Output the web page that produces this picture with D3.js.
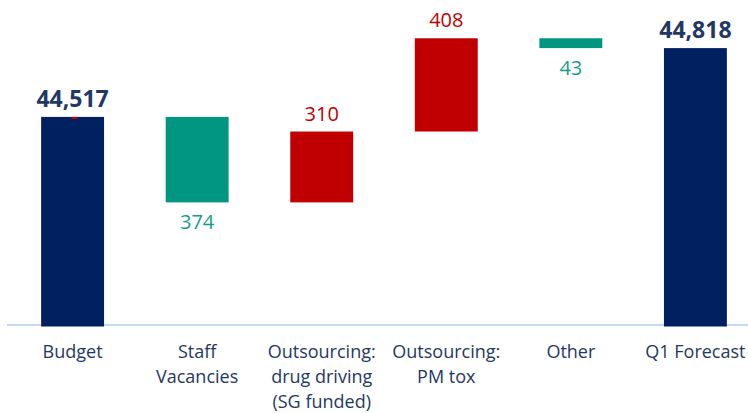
<!DOCTYPE html>
<html>
<head>
<meta charset="utf-8">
<script src="https://cdn.jsdelivr.net/npm/d3@7"></script>
<style>
  body { margin: 0; background: #fff; }
  text { font-family: "Open Sans", "Noto Sans", sans-serif; }
</style>
</head>
<body>
<div id="chart"></div>
<script>
// Data
const categories = ["Budget", "Staff Vacancies", "Outsourcing: drug driving (SG funded)", "Outsourcing: PM tox", "Other", "Q1 Forecast"];
const categoryLines = [["Budget"], ["Staff", "Vacancies"], ["Outsourcing:", "drug driving", "(SG funded)"], ["Outsourcing:", "PM tox"], ["Other"], ["Q1 Forecast"]];
const kinds = ["total", "change", "change", "change", "change", "total"];
const values = [44517, -374, 310, 408, -43, 44818];
const valueLabels = ["44,517", "374", "310", "408", "43", "44,818"];
const yDomain = [43600, 45000];

const width = 748, height = 413;
const colors = { total: "#002060", up: "#c00000", down: "#009681", totalText: "#1f3864", upText: "#c00000", downText: "#169e8a" };

// build waterfall steps
let running = 0;
const steps = categories.map((c, i) => {
  let start, end;
  if (kinds[i] === "total") { start = yDomain[0]; end = values[i]; running = values[i]; }
  else { start = running; end = running + values[i]; running = end; }
  return { cat: c, lines: categoryLines[i], kind: kinds[i], value: values[i], label: valueLabels[i], start, end };
});

const svg = d3.select("#chart").append("svg")
  .attr("width", width).attr("height", height);

const x = d3.scaleBand().domain(categories).range([10, 758]).paddingInner(0.495).paddingOuter(0.25);
const y = d3.scaleLinear().domain(yDomain).range([326.5, 6.5]);

// axis line
svg.append("line")
  .attr("x1", 7).attr("x2", 748)
  .attr("y1", 325).attr("y2", 325)
  .attr("stroke", "#c6d9f0").attr("stroke-width", 2);

// bars
svg.selectAll("rect.bar")
  .data(steps)
  .enter().append("rect")
  .attr("class", "bar")
  .attr("x", d => x(d.cat))
  .attr("width", x.bandwidth())
  .attr("y", d => y(Math.max(d.start, d.end)))
  .attr("height", d => Math.abs(y(d.start) - y(d.end)))
  .attr("fill", d => d.kind === "total" ? colors.total : (d.value > 0 ? colors.up : colors.down));

// small red tick on the budget bar
svg.append("rect")
  .attr("x", x(categories[0]) + x.bandwidth() / 2 - 1)
  .attr("y", y(values[0]))
  .attr("width", 6).attr("height", 2)
  .attr("fill", colors.up);

// value labels
svg.selectAll("text.val")
  .data(steps)
  .enter().append("text")
  .attr("class", "val")
  .attr("text-anchor", "middle")
  .attr("x", d => x(d.cat) + x.bandwidth() / 2)
  .attr("y", d => {
    if (d.kind === "total") return y(d.end) - 10;
    if (d.value > 0) return y(d.end) - 11;
    return y(d.end) + 27;
  })
  .attr("font-size", d => d.kind === "total" ? "23px" : "20px")
  .attr("font-weight", d => d.kind === "total" ? "bold" : "normal")
  .attr("fill", d => d.kind === "total" ? colors.totalText : (d.value > 0 ? colors.upText : colors.downText))
  .text(d => d.label);

// category labels
const cat = svg.selectAll("text.cat")
  .data(steps)
  .enter().append("text")
  .attr("class", "cat")
  .attr("text-anchor", "middle")
  .attr("font-size", "18px")
  .attr("fill", "#1f3864")
  .attr("x", d => x(d.cat) + x.bandwidth() / 2)
  .attr("y", 358);

cat.selectAll("tspan")
  .data(d => d.lines.map(l => ({ l, cx: x(d.cat) + x.bandwidth() / 2 })))
  .enter().append("tspan")
  .attr("x", t => t.cx)
  .attr("dy", (t, i) => i === 0 ? 0 : 25)
  .text(t => t.l);
</script>
</body>
</html>
